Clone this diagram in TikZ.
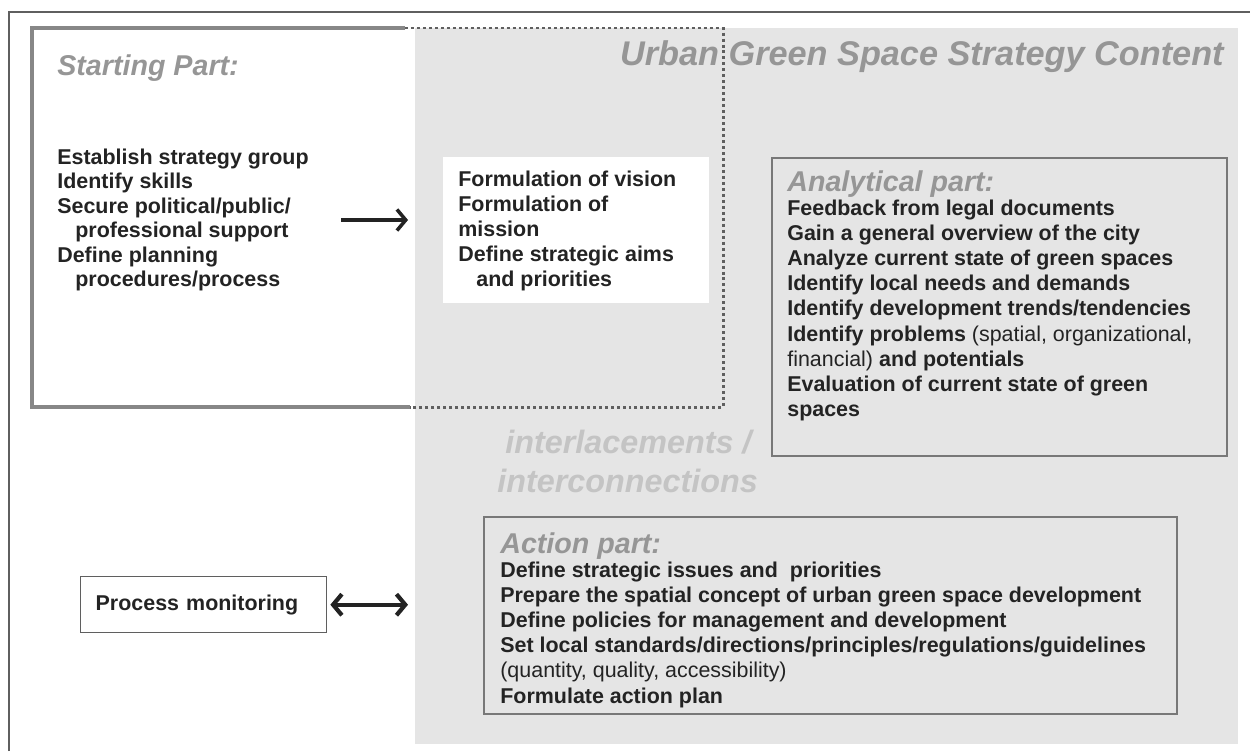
\documentclass[tikz,border=0pt]{standalone}
\usepackage{fontspec}
\setmainfont{Liberation Sans}
\usetikzlibrary{arrows.meta, calc, positioning}
\definecolor{panel}{RGB}{229,229,229}
\definecolor{headgray}{RGB}{150,150,150}
\definecolor{faint}{RGB}{196,196,196}
\definecolor{ink}{RGB}{35,35,35}
\definecolor{boxline}{RGB}{120,120,120}
\definecolor{startline}{RGB}{135,135,135}
\definecolor{frame}{RGB}{95,95,95}

\tikzset{
    bodytext/.style={anchor=north west, inner sep=0pt, align=left, text=ink,
        font=\fontsize{12.2}{14.3}\selectfont\bfseries},
    parthead/.style={anchor=base west, inner sep=0pt, text=headgray,
        font=\fontsize{16.3}{18}\selectfont\bfseries\itshape},
    partbox/.style={draw=boxline, line width=0.8pt},
    flowarrow/.style={line width=2pt, ink, -{Straight Barb[length=5pt, width=12pt]}}
}

\begin{document}
\begin{tikzpicture}[x=0.02cm, y=-0.02cm]
    \useasboundingbox (0,0) rectangle (1250,751);

    % Page frame
    \draw[frame, line width=0.6pt] (9,751) -- (9,12) -- (1250,12);

    % Strategy content panel
    \fill[panel] (415,28) rectangle (1238,744);
    \coordinate (panel) at (415,28);

    % Vision box
    \fill[white] (443,157) rectangle (709,303);

    % Starting part outline (solid outside the panel, dotted inside)
    \draw[startline, line width=2.3pt] (405,28) -- (32,28) -- (32,407) -- (410,407);
    \draw[startline!70!black, line width=1.7pt, dash pattern=on 1.7pt off 1.7pt]
        (405,28) -- (723,28) -- (723,407) -- (410,407);

    % Part boxes
    \draw[partbox] (772,158) rectangle (1227,456);
    \draw[partbox] (484,517) rectangle (1177,714);

    % Headings
    \node[parthead, anchor=base east, font=\fontsize{19.5}{22}\selectfont\bfseries\itshape]
        (title) at (1224,65) {Urban Green Space Strategy Content};
    \node[parthead] (starthead) at (57,75) {Starting Part:};
    \node[parthead] (anahead) at (787,191) {Analytical part:};
    \node[parthead] (acthead) at (500,553) {Action part:};

    % Starting part
    \node[bodytext, font=\fontsize{12.2}{13.9}\selectfont\bfseries] (start) at (57,148.6)
        {Establish strategy group\\Identify skills\\Secure political/public/\\
         \hspace*{0.36cm}professional support\\Define planning\\
         \hspace*{0.36cm}procedures/process};

    % Vision and mission
    \node[bodytext] (vision) at (458,170.6)
        {Formulation of vision\\Formulation of\\mission\\Define strategic aims\\
         \hspace*{0.36cm}and priorities};

    % Analytical part
    \node[bodytext] (analysis) at (787,199.6)
        {Feedback from legal documents\\Gain a general overview of the city\\
         Analyze current state of green spaces\\Identify local needs and demands\\
         Identify development trends/tendencies\\
         Identify problems \textmd{(spatial, organizational,}\\
         \textmd{financial)} and potentials\\
         Evaluation of current state of green\\spaces};

    % Interconnections
    \node[anchor=north west, inner sep=0pt, align=left, text=faint,
        font=\fontsize{18.4}{22.2}\selectfont\bfseries\itshape] (links) at (497,429.8)
        {\hspace*{0.16cm}interlacements /\\interconnections};

    % Action part
    \node[bodytext] (action) at (500,561.6)
        {Define strategic issues and\ \ priorities\\
         Prepare the spatial concept of urban green space development\\
         Define policies for management and development\\
         Set local standards/directions/principles/regulations/guidelines\\
         \textmd{(quantity, quality, accessibility)}\\
         Formulate action plan};

    % Process monitoring
    \node[draw=frame, line width=0.8pt, anchor=north west, minimum height=1.12cm,
        text width=4.32cm, inner xsep=0.3cm, inner ysep=0pt, align=left, text=ink,
        font=\fontsize{12.2}{14.3}\selectfont\bfseries] (monitor) at (80,576) {Process monitoring};

    % Arrows
    \draw[flowarrow, shorten <=0.64cm, shorten >=0.14cm] (start) -- (start -| panel);
    \draw[flowarrow, line width=2.4pt, {Straight Barb[length=5pt, width=12pt]}-{Straight Barb[length=5pt, width=12pt]},
        shorten <=0.06cm, shorten >=0.14cm] (monitor) -- (monitor -| panel);

\end{tikzpicture}
\end{document}
